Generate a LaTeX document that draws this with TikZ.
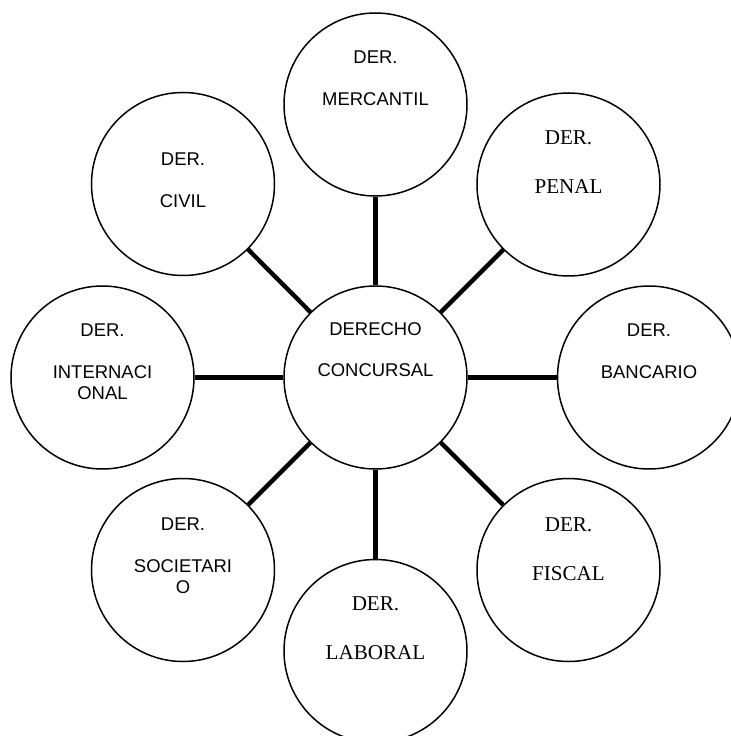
\documentclass[tikz,border=0pt]{standalone}
\usepackage{fontspec}
\setmainfont{Liberation Serif}
\newfontfamily\arialfont{Liberation Sans}
\newfontfamily\timesfont{Liberation Serif}
\tikzset{
  areanode/.style  = {circle, minimum size=3.66cm, inner sep=0pt,
                      draw=black, line width=0.85pt},
  spokeedge/.style = {line width=2.5pt, black},
  sanslbl/.style   = {anchor=north, inner sep=0pt, align=center,
                      font=\arialfont\fontsize{10.5}{12}\selectfont},
  seriflbl/.style  = {anchor=north, inner sep=0pt, align=center,
                      font=\timesfont\fontsize{12}{13.8}\selectfont}
}

\begin{document}
\begin{tikzpicture}
  \useasboundingbox (-7.51,-7.17) rectangle (7.11,7.55);
  \clip (-7.51,-7.17) rectangle (7.11,7.55);
  % ---- circles ----
  \node[areanode] (conc) at (0, 0)        {};
  \node[areanode] (merc) at (0, 5.46)     {};
  \node[areanode] (pen)  at (3.86, 3.86)  {};
  \node[areanode] (banc) at (5.47, 0)     {};
  \node[areanode] (fisc) at (3.86,-3.85)  {};
  \node[areanode] (lab)  at (0,-5.47)     {};
  \node[areanode] (soc)  at (-3.85,-3.85) {};
  \node[areanode] (intl) at (-5.46, 0)    {};
  \node[areanode] (civ)  at (-3.85, 3.87) {};
  % ---- labels ----
  \node[sanslbl]  (conct) at ([yshift=1.10cm]conc.center) {DERECHO\\[11pt]CONCURSAL};
  \node[sanslbl]  (merct) at ([yshift=1.08cm]merc.center) {DER.\\[12pt]MERCANTIL};
  \node[seriflbl] (pent)  at ([yshift=1.08cm]pen.center)  {DER.\\[14pt]PENAL};
  \node[sanslbl]  (banct) at ([yshift=1.09cm]banc.center) {DER.\\[12pt]BANCARIO};
  \node[seriflbl] (fisct) at ([yshift=1.06cm]fisc.center) {DER.\\[14pt]FISCAL};
  \node[seriflbl] (labt)  at ([yshift=1.09cm]lab.center)  {DER.\\[14pt]LABORAL};
  \node[sanslbl]  (soct)  at ([yshift=1.06cm]soc.center)  {DER.\\[12pt]SOCIETARI\\O};
  \node[sanslbl]  (intlt) at ([yshift=1.09cm]intl.center) {DER.\\[12pt]INTERNACI\\ONAL};
  \node[sanslbl]  (civt)  at ([yshift=0.64cm]civ.center)  {DER.\\[12pt]CIVIL};
  % ---- spokes ----
  \draw[spokeedge] (conc)--(merc); \draw[spokeedge] (conc)--(pen);
  \draw[spokeedge] (conc)--(banc); \draw[spokeedge] (conc)--(fisc);
  \draw[spokeedge] (conc)--(lab);  \draw[spokeedge] (conc)--(soc);
  \draw[spokeedge] (conc)--(intl); \draw[spokeedge] (conc)--(civ);
\end{tikzpicture}
\end{document}
